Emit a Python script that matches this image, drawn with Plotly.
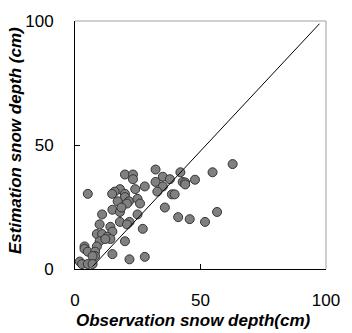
import plotly.graph_objects as go

obs = [62.8, 54.8, 42.0, 32.1, 19.9, 23.1, 23.1, 35.0, 37.8, 47.8, 42.9, 43.9, 43.9, 32.1, 35.0,
       27.8, 32.8, 24.0, 17.9, 15.8, 14.8, 5.1, 19.9, 19.9, 38.6, 39.7, 17.0, 21.5, 24.9, 25.9,
       20.7, 14.9, 17.9, 18.5, 10.8, 24.9, 35.8, 41.1, 45.7, 51.8, 56.6, 17.9, 21.7, 20.7, 9.8,
       14.1, 14.9, 27.0, 8.7, 10.8, 12.9, 14.1, 9.8, 19.9, 8.7, 3.8, 3.8, 5.1, 8.0, 8.0,
       7.0, 14.9, 21.7, 27.8, 1.9, 2.8, 5.1, 7.0, 12.1]
est = [42.3, 39.0, 39.0, 40.1, 38.1, 38.1, 36.2, 37.2, 36.2, 36.0, 35.1, 34.9, 34.1, 35.1, 33.3,
       33.3, 31.2, 32.2, 32.2, 31.2, 30.3, 30.3, 30.3, 29.0, 30.1, 30.1, 27.3, 27.3, 28.3, 26.4,
       26.4, 23.9, 23.0, 24.8, 22.0, 22.0, 24.8, 20.9, 20.1, 19.0, 23.0, 19.0, 19.0, 18.0, 18.0,
       17.0, 15.1, 16.2, 14.1, 14.1, 13.0, 12.1, 11.2, 11.2, 9.1, 9.1, 8.1, 7.0, 7.0, 5.2,
       5.2, 6.0, 3.9, 4.9, 3.0, 2.0, 2.0, 2.0, 12.1]

line_x = [7.0, 97.4]
line_y = [1.0, 98.9]

tick_vals = [0, 50, 100]
tick_text = ["0", "50", "100"]

fig = go.Figure()
fig.add_trace(go.Scatter(x=line_x, y=line_y, mode="lines", yaxis="y2",
                         line=dict(color="black", width=1), showlegend=False, hoverinfo="skip"))
fig.add_trace(go.Scatter(x=obs, y=est, mode="markers",
                         marker=dict(size=9, color="#808080", line=dict(color="#333333", width=1)),
                         showlegend=False, cliponaxis=False))

tick_font = dict(family="Liberation Sans, Arial", size=17, color="black")

fig.update_xaxes(range=[0, 100], tickvals=tick_vals, ticktext=tick_text, ticks="inside",
                 ticklen=5, tickcolor="black", showgrid=False, zeroline=False,
                 showline=True, linecolor="black", linewidth=1, tickfont=tick_font,
                 ticklabelstandoff=16)

fig.update_layout(
    yaxis=dict(range=[0, 100], tickvals=tick_vals, ticktext=tick_text, ticks="outside",
               ticklen=0, showgrid=False, zeroline=False, showline=True, linecolor="black",
               linewidth=1, tickfont=tick_font, ticklabelstandoff=17),
    yaxis2=dict(range=[0, 100], tickvals=tick_vals, ticks="inside", ticklen=5,
                tickcolor="black", showticklabels=False, showgrid=False, zeroline=False,
                showline=False, overlaying="y", side="left"),
)

fig.add_shape(type="line", xref="paper", yref="paper", x0=0, x1=1, y0=1, y1=1,
              line=dict(color="#a0a0a0", width=1))
fig.add_shape(type="line", xref="paper", yref="paper", x0=1, x1=1, y0=0, y1=1,
              line=dict(color="#a0a0a0", width=1))

title_font = dict(family="Liberation Sans, Arial", size=17, color="black")
fig.add_annotation(text="<b><i>Observation snow depth(cm)</i></b>", xref="paper", yref="paper",
                   x=(198 - 75) / 261, y=-(322 - 269) / 255, showarrow=False,
                   xanchor="center", yanchor="middle", font=title_font)
fig.add_annotation(text="<b><i>Estimation snow depth (cm)</i></b>", xref="paper", yref="paper",
                   x=-(75 - 13) / 261, y=(269 - 137) / 255, showarrow=False, textangle=-90,
                   xanchor="center", yanchor="middle", font=title_font)

fig.update_layout(width=352, height=333, margin=dict(l=75, r=16, t=14, b=64),
                  plot_bgcolor="white", paper_bgcolor="white")

fig.write_html("out.html", config={"displayModeBar": False},
               post_script="document.body.style.margin='0';document.body.style.overflow='hidden';")
